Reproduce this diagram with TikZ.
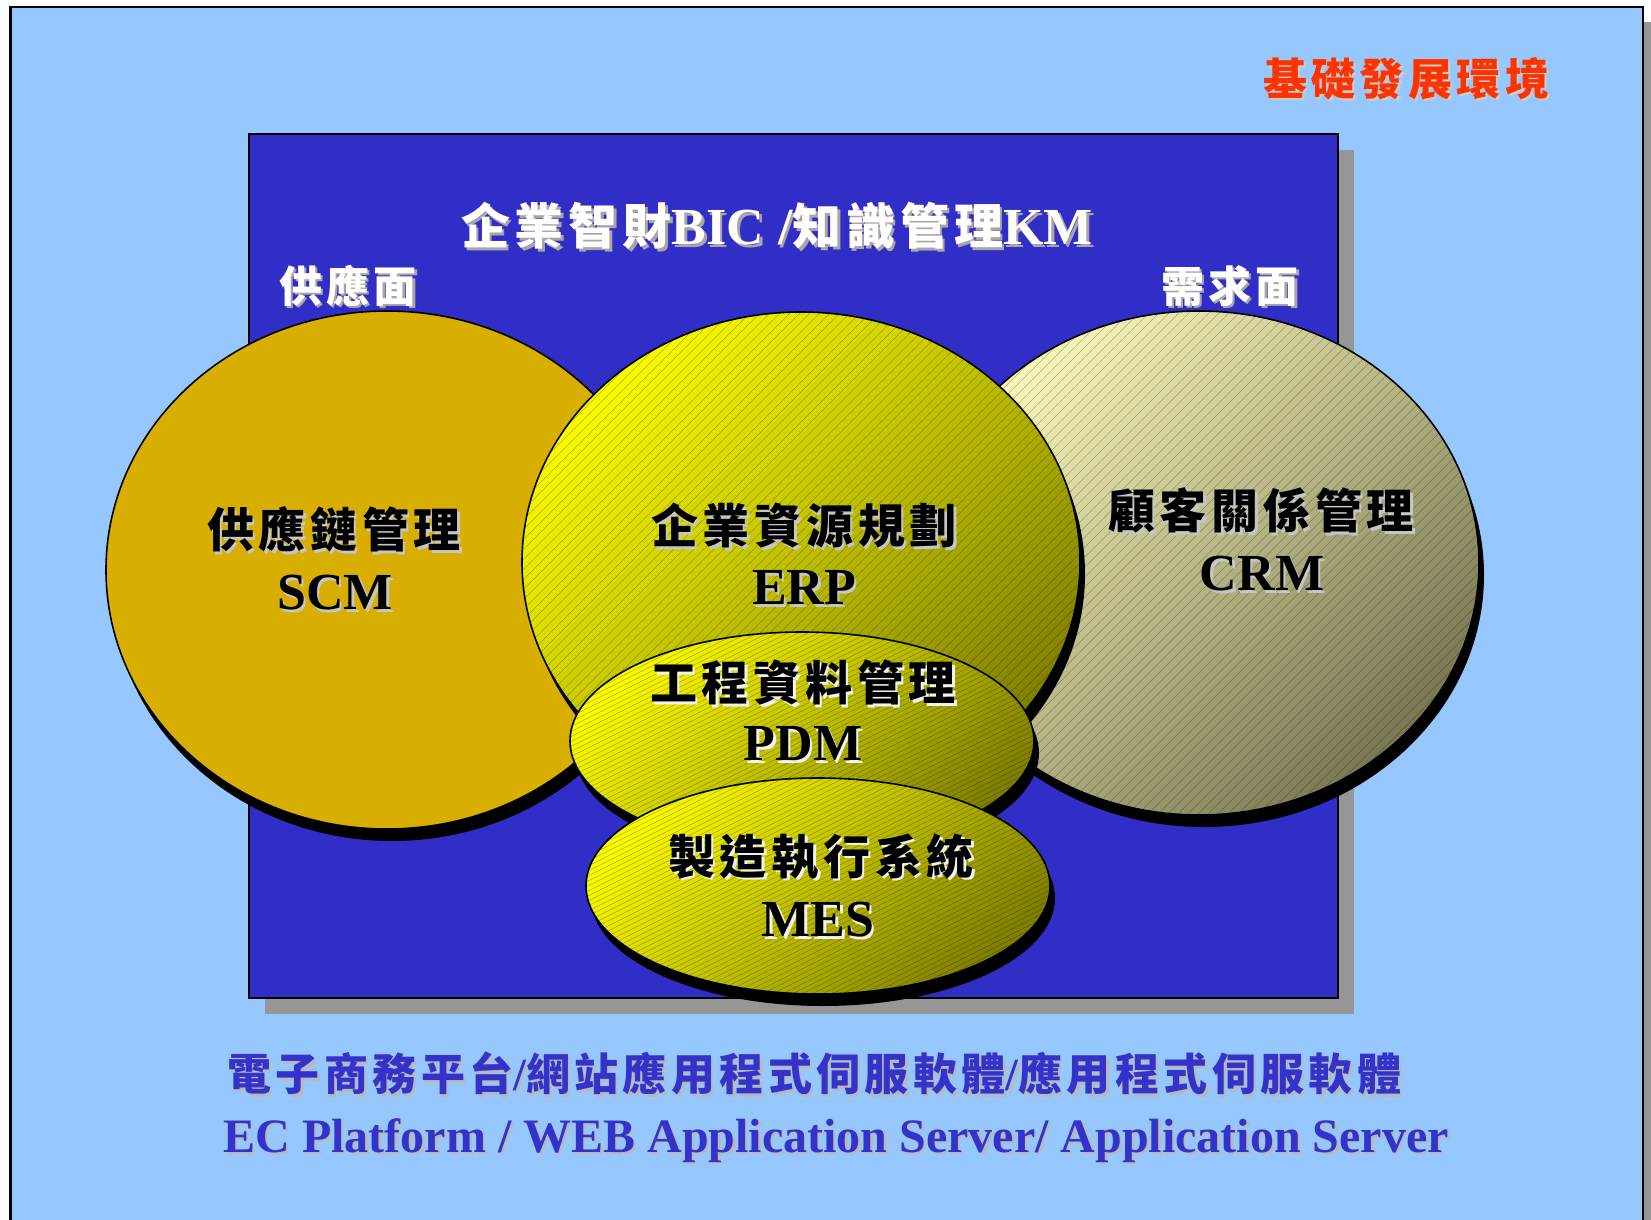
\documentclass[tikz,border=0pt]{standalone}
\usepackage{fontspec}
\setmainfont{Liberation Serif}[BoldFont={Liberation Serif Bold}]
\newfontfamily\latb{Liberation Serif Bold}
\newfontfamily\cjk{Noto Sans CJK TC}[LetterSpace=10]
\definecolor{bgblue}{RGB}{150,200,255}
\definecolor{boxblue}{RGB}{49,46,200}
\definecolor{shgray}{RGB}{150,150,150}
\definecolor{scmgold}{RGB}{216,174,0}
\definecolor{titlered}{RGB}{255,51,0}
\definecolor{textblue}{RGB}{51,51,204}
\definecolor{ylight}{RGB}{250,250,0}
\definecolor{ydark}{RGB}{128,128,0}
\definecolor{clight}{RGB}{248,248,185}
\definecolor{cdark}{RGB}{122,120,84}
\newcommand\shtxt[3]{\rlap{\hspace{1.2pt}\raisebox{-1.2pt}{\color{#2}#3}}{\color{#1}#3}}
\begin{document}
\begin{tikzpicture}[x=0.5pt,y=-0.5pt,
  hatch/.style={black,opacity=0.28,line width=0.25pt},
  rim/.style={draw=black,line width=0.8pt},
  lblbig/.style={inner sep=0pt,font=\fontsize{23.5}{28}\selectfont\bfseries},
  lbllat/.style={inner sep=0pt,font=\fontsize{26}{30}\selectfont\latb},
  lblmid/.style={inner sep=0pt,font=\fontsize{21.5}{26}\selectfont\bfseries},
  lblred/.style={inner sep=0pt,font=\fontsize{22}{26}\selectfont\bfseries}]
\useasboundingbox (0,0) rectangle (1651,1220);
\fill[white] (0,0) rectangle (1651,1220);
% outer frame
\fill[shgray] (18,22) rectangle (1651,1240);
\draw[fill=bgblue,line width=1.2pt] (10.5,7) rectangle (1643,1240);
% blue box
\fill[shgray] (265,150) rectangle (1354,1014);
\draw[fill=boxblue,line width=1pt] (249,134) rectangle (1338,998);
% SCM
\fill[black] (392,582) ellipse [x radius=281, y radius=259];
\path[fill=scmgold,rim] (387,570) ellipse [x radius=281, y radius=259];
% CRM
\fill[black] (1204,575) ellipse [x radius=280, y radius=252];
\shade[top color=clight,bottom color=cdark,shading angle=45] (1199,563) ellipse [x radius=280, y radius=252];
\begin{scope}
  \clip (1199,563) ellipse [x radius=280, y radius=252];
  \foreach \k in {-540,-530,...,540} \draw[hatch] (1199+\k-270,563+270) -- (1199+\k+270,563-270);
\end{scope}
\draw[rim] (1199,563) ellipse [x radius=280, y radius=252];
% ERP
\fill[black] (806,574) ellipse [x radius=279, y radius=250];
\shade[top color=ylight,bottom color=ydark,shading angle=45] (801,562) ellipse [x radius=279, y radius=250];
\begin{scope}
  \clip (801,562) ellipse [x radius=279, y radius=250];
  \foreach \k in {-540,-530,...,540} \draw[hatch] (801+\k-270,562+270) -- (801+\k+270,562-270);
\end{scope}
\draw[rim] (801,562) ellipse [x radius=279, y radius=250];
% PDM
\fill[black] (807,753) ellipse [x radius=232, y radius=109];
\shade[top color=ylight,bottom color=ydark,shading angle=45] (802,741) ellipse [x radius=232, y radius=109];
\begin{scope}
  \clip (802,741) ellipse [x radius=232, y radius=109];
  \foreach \k in {-235,-230,...,235} \draw[hatch] (802-250,741+\k+125) -- (802+250,741+\k-125);
\end{scope}
\draw[rim] (802,741) ellipse [x radius=232, y radius=109];
% MES
\fill[black] (823,898) ellipse [x radius=232, y radius=108];
\shade[top color=ylight,bottom color=ydark,shading angle=45] (818,886) ellipse [x radius=232, y radius=108];
\begin{scope}
  \clip (818,886) ellipse [x radius=232, y radius=108];
  \foreach \k in {-235,-230,...,235} \draw[hatch] (818-250,886+\k+125) -- (818+250,886+\k-125);
\end{scope}
\draw[rim] (818,886) ellipse [x radius=232, y radius=108];
% texts
\node[lblred] (red) at (1406,80) {\shtxt{titlered}{gray!40}{\cjk 基礎發展環境}};
\node[lbllat] (title) at (777,227) {\shtxt{white}{gray!70}{{\cjk\bfseries\fontsize{24.5}{28}\selectfont 企業智財}BIC\hspace{7pt}/{\cjk\bfseries\fontsize{24.5}{28}\selectfont 知識管理}KM}};
\node[lblmid] (supply) at (348,287) {\shtxt{white}{gray!70}{\cjk 供應面}};
\node[lblmid] (demand) at (1230,287) {\shtxt{white}{gray!70}{\cjk 需求面}};
\node[lblbig] (scmA) at (334,531) {\shtxt{black}{gray!45}{\cjk 供應鏈管理}};
\node[lbllat] (scmB) at (335,594) {\shtxt{black}{gray!45}{SCM}};
\node[lblbig] (erpA) at (804,527) {\shtxt{black}{gray!45}{\cjk 企業資源規劃}};
\node[lbllat] (erpB) at (804,589) {\shtxt{black}{gray!45}{ERP}};
\node[lblbig] (crmA) at (1261,512) {\shtxt{black}{gray!45}{\cjk 顧客關係管理}};
\node[lbllat] (crmB) at (1262,575) {\shtxt{black}{gray!45}{CRM}};
\node[lblbig] (pdmA) at (803,684) {\shtxt{black}{white!90!gray}{\cjk 工程資料管理}};
\node[lbllat] (pdmB) at (803,745) {\shtxt{black}{white!90!gray}{PDM}};
\node[lblbig] (mesA) at (821,858) {\shtxt{black}{white!90!gray}{\cjk 製造執行系統}};
\node[lbllat] (mesB) at (818,921) {\shtxt{black}{white!90!gray}{MES}};
\node[inner sep=0pt,font=\fontsize{22}{26}\selectfont\bfseries,anchor=west] (ecA) at (227,1075) {\shtxt{textblue}{gray!55}{{\cjk 電子商務平台}{\latb\fontsize{23}{28}\selectfont/}{\cjk 網站應用程式伺服軟體}{\latb\fontsize{23}{28}\selectfont/}{\cjk 應用程式伺服軟體}}};
\node[lbllat,font=\fontsize{24}{28}\selectfont\latb,anchor=base west] (ecB) at (223,1152) {\shtxt{textblue}{gray!55}{EC Platform / WEB Application Server/ Application Server}};
\end{tikzpicture}
\end{document}
